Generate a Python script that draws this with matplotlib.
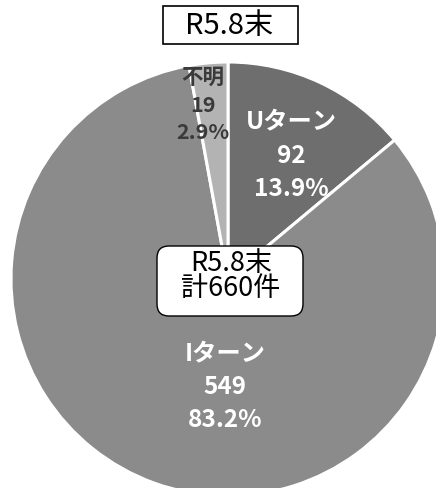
import matplotlib
matplotlib.use("Agg")
import matplotlib.pyplot as plt
from matplotlib.patches import Rectangle, FancyBboxPatch
from matplotlib.transforms import IdentityTransform

plt.rcParams['font.family'] = ['Noto Sans CJK JP', 'DejaVu Sans']

# data
labels = ['Uターン', 'Iターン', '不明']
counts = [92, 549, 19]
pcts = ['13.9%', '83.2%', '2.9%']
colors = ['#6e6e6e', '#8b8b8b', '#b3b3b3']
title = 'R5.8末'
total_label = 'R5.8末\n計660件'

W, H = 436, 489
fig = plt.figure(figsize=(W / 100, H / 100), dpi=100)
ax = fig.add_axes([0, 0, 1, 1])

# pie centred at (228, 280) px with radius 217 px
cx, cy, r = 228, 280, 217
ax.pie(counts, colors=colors, startangle=90, counterclock=False,
       wedgeprops=dict(edgecolor='white', linewidth=2.2))
ax.set_xlim(-cx / r, (W - cx) / r)
ax.set_ylim(-(H - cy) / r, cy / r)
ax.set_aspect('auto')
ax.axis('off')


def fx(x):
    return x / W


def fy(y):
    return 1 - y / H


# slice labels
label_pos = [(291, 156, 17.5, 'white', 1.5),
             (225, 387, 17.5, 'white', 1.45),
             (203, 105, 15.5, '#3a3a3a', 1.4)]
for name, n, p, (x, y, fs, c, ls) in zip(labels, counts, pcts, label_pos):
    fig.text(fx(x), fy(y), f'{name}\n{n}\n{p}', ha='center', va='center',
             multialignment='center', fontsize=fs, fontweight='bold',
             color=c, linespacing=ls)

# title box
ident = IdentityTransform()
fig.patches.append(Rectangle((163, H - 45), 135, 38, transform=ident,
                             facecolor='white', edgecolor='black', lw=1.2))
fig.text(fx(229), fy(26), title, ha='center', va='center', fontsize=21)

# centre box
fig.patches.append(FancyBboxPatch((157, H - 317), 146, 70, transform=ident,
                                  boxstyle='round,pad=0,rounding_size=12',
                                  facecolor='white', edgecolor='black', lw=1.0))
fig.text(fx(231), fy(276), total_label, ha='center', va='center',
         fontsize=19.5, linespacing=0.92)

fig.savefig('out.png', dpi=100)
